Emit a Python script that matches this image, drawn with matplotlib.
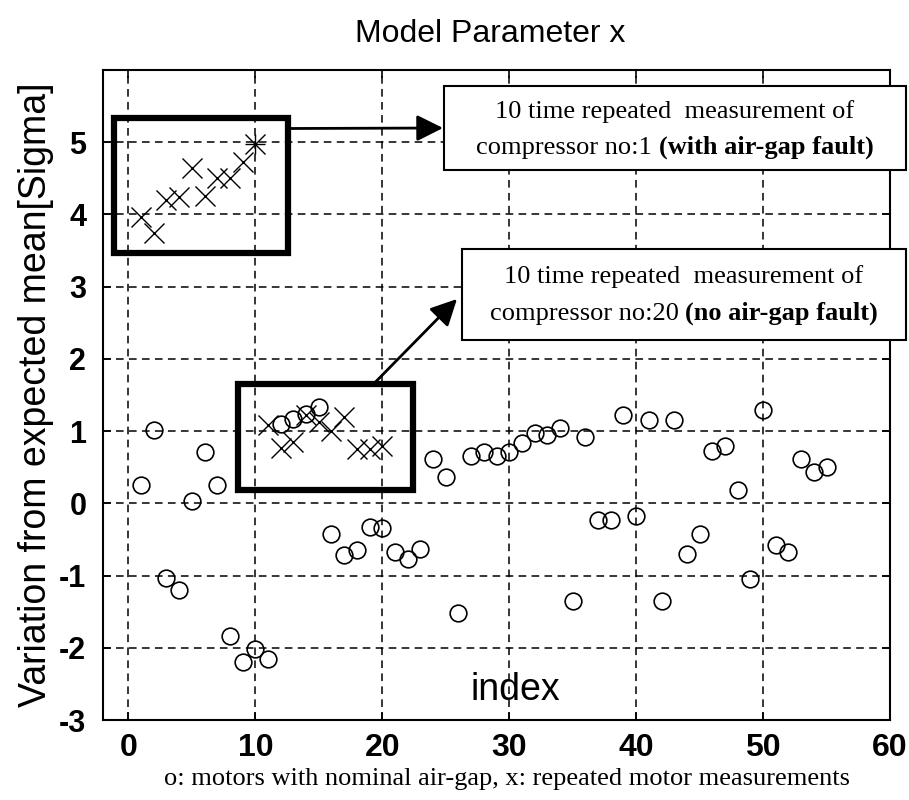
import matplotlib
matplotlib.use("Agg")
import matplotlib.pyplot as plt
from matplotlib.patches import Rectangle
import numpy as np

# ---------------- data ----------------
motor_index = list(range(1, 56))
motor_values = [0.26, 1.01, -1.04, -1.20, 0.03, 0.71, 0.26, -1.84, -2.19, -2.01,
                -2.16, 1.10, 1.17, 1.24, 1.33, -0.42, -0.71, -0.64, -0.33, -0.34,
                -0.67, -0.77, -0.63, 0.61, 0.36, -1.52, 0.66, 0.71, 0.65, 0.71,
                0.83, 0.98, 0.95, 1.05, -1.35, 0.92, -0.23, -0.23, 1.23, -0.17,
                1.16, -1.35, 1.16, -0.70, -0.43, 0.73, 0.80, 0.18, -1.05, 1.29,
                -0.58, -0.68, 0.61, 0.44, 0.50]

comp1_index = list(range(1, 11))
comp1_values = [3.96, 3.75, 4.20, 4.24, 4.64, 4.26, 4.51, 4.50, 4.72, 4.98]

comp20_index = list(range(11, 21))
comp20_values = [1.08, 0.76, 0.85, 1.22, 1.12, 1.00, 1.19, 0.75, 0.75, 0.80]

x_ticks = [0, 10, 20, 30, 40, 50, 60]
y_ticks = [-3, -2, -1, 0, 1, 2, 3, 4, 5]

title_text = "Model Parameter x"
ylabel_text = "Variation from expected mean[Sigma]"
xlabel_text = "index"
caption_text = "o: motors with nominal air-gap, x: repeated motor measurements"
box1_line1 = "10 time repeated  measurement of"
box1_line2a = "compressor no:1 "
box1_line2b = "(with air-gap fault)"
box2_line1 = "10 time repeated  measurement of"
box2_line2a = "compressor no:20 "
box2_line2b = "(no air-gap fault)"

# ---------------- figure ----------------
W, H = 909, 800
fig = plt.figure(figsize=(W / 100, H / 100), dpi=100)
fig.patch.set_facecolor("white")

def fx(px):
    return px / W

def fy(py):
    return 1 - py / H

ax_l, ax_r, ax_t, ax_b = 103, 890, 70, 720
ax = fig.add_axes([fx(ax_l), fy(ax_b), (ax_r - ax_l) / W, (ax_b - ax_t) / H])
ax.set_xlim(-2, 60)
ax.set_ylim(-3, 6)
ax.set_xticks(x_ticks)
ax.set_yticks(y_ticks)

sans = ["Liberation Sans", "DejaVu Sans"]
serif = ["Liberation Serif", "DejaVu Serif"]

ax.set_xticklabels([str(v) for v in x_ticks], family=sans, fontsize=23, weight="bold")
ax.set_yticklabels([str(v) for v in y_ticks], family=sans, fontsize=22, weight="bold")
ax.tick_params(direction="in", length=6, width=1.2, top=True, right=True)
ax.tick_params(axis="x", pad=9)
ax.tick_params(axis="y", pad=12)
for s in ax.spines.values():
    s.set_linewidth(1.5)
    s.set_color("black")

# dashed grid
for xv in x_ticks:
    ax.axvline(xv, color="black", lw=1.1, dashes=(5, 3.5), zorder=1)
for yv in y_ticks:
    ax.axhline(yv, color="black", lw=1.1, dashes=(5, 3.5), zorder=1)

# points
ax.plot(motor_index, motor_values, linestyle="none", marker="o", markersize=12,
        markerfacecolor="none", markeredgecolor="black", markeredgewidth=1.2, zorder=3)
ax.plot(comp1_index, comp1_values, linestyle="none", marker="x", markersize=14,
        color="black", markeredgewidth=1.0, zorder=3)
ax.plot(comp1_index[-1:], comp1_values[-1:], linestyle="none", marker="+", markersize=14,
        color="black", markeredgewidth=1.0, zorder=3)
ax.plot(comp20_index, comp20_values, linestyle="none", marker="x", markersize=14,
        color="black", markeredgewidth=1.0, zorder=3)

# highlight boxes (data coords)
ax.add_patch(Rectangle((-1.13, 3.46), 12.58 + 1.13, 5.34 - 3.46, fill=False,
                       lw=4.5, edgecolor="black", zorder=4, clip_on=False))
ax.add_patch(Rectangle((8.64, 0.19), 22.4 - 8.64, 1.65 - 0.19, fill=False,
                       lw=4.5, edgecolor="black", zorder=4, clip_on=False))

# labels
fig.text(fx(490), fy(42), title_text, family=sans, fontsize=23,
         ha="center", va="baseline")
ax.set_ylabel(ylabel_text, family=sans, fontsize=27, labelpad=4)
ax.text(30.5, -2.72, xlabel_text, family=sans, fontsize=27, ha="center",
        va="baseline", zorder=5)
fig.text(fx(507), fy(785), caption_text, family=serif, fontsize=19,
         ha="center", va="baseline")

# annotation text boxes (figure pixels)
def text_box(x0, y0, x1, y1, line1, line2a, line2b, base1, base2):
    fig.patches.append(Rectangle((fx(x0), fy(y1)), fx(x1) - fx(x0), fy(y0) - fy(y1),
                                 transform=fig.transFigure, facecolor="white",
                                 edgecolor="black", lw=1.5, zorder=10))
    cx = (x0 + x1) / 2
    fig.text(fx(cx), fy(base1), line1, family=serif, fontsize=19,
             ha="center", va="baseline", zorder=11)
    ta = fig.text(fx(cx), fy(base2), line2a, family=serif, fontsize=19,
                  ha="right", va="baseline", zorder=11)
    tb = fig.text(fx(cx), fy(base2), line2b, family=serif, fontsize=19,
                  weight="bold", ha="left", va="baseline", zorder=11)
    return ta, tb

ta1, tb1 = text_box(444, 86, 906, 170, box1_line1, box1_line2a, box1_line2b, 118, 154)
ta2, tb2 = text_box(462, 249, 906, 340, box2_line1, box2_line2a, box2_line2b, 283, 320)

# center the two-part second lines
fig.canvas.draw()
r = fig.canvas.get_renderer()
for ta, tb, x0, x1 in [(ta1, tb1, 444, 906), (ta2, tb2, 462, 906)]:
    wa = ta.get_window_extent(r).width
    wb = tb.get_window_extent(r).width
    start = (x0 + x1) / 2 - (wa + wb) / 2
    ta.set_ha("left")
    ta.set_x(fx(start))
    tb.set_x(fx(start + wa))

# arrows
arrow_style = "-|>,head_length=0.8,head_width=0.4"
ax.annotate("", xy=(fx(443), fy(128)), xycoords="figure fraction",
            xytext=(12.58, 5.19), textcoords="data",
            arrowprops=dict(arrowstyle=arrow_style, mutation_scale=20, lw=2,
                            color="black", shrinkA=0, shrinkB=0), zorder=12)
ax.annotate("", xy=(fx(457), fy(299)), xycoords="figure fraction",
            xytext=(19.3, 1.65), textcoords="data",
            arrowprops=dict(arrowstyle=arrow_style, mutation_scale=20, lw=2,
                            color="black", shrinkA=0, shrinkB=0), zorder=12)

fig.savefig("out.png", dpi=100, facecolor="white")
